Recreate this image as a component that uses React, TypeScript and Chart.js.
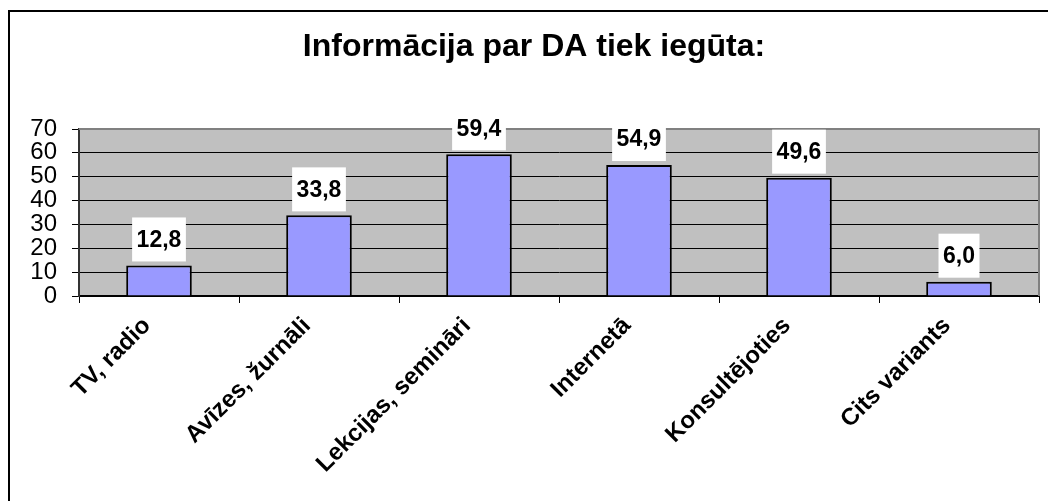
import React, { useEffect, useRef } from "react";
import { Chart, registerables } from "chart.js";

Chart.register(...registerables);

const TITLE = "Informācija par DA tiek iegūta:";
const categories = [
  "TV, radio",
  "Avīzes, žurnāli",
  "Lekcijas, semināri",
  "Internetā",
  "Konsultējoties",
  "Cits variants",
];
const values = [12.8, 33.8, 59.4, 54.9, 49.6, 6.0];
const yMin = 0;
const yMax = 70;
const yStep = 10;

const FONT = "'Liberation Sans', Arial, Helvetica, sans-serif";

const framePlugin = {
  id: "frame",
  beforeDraw(chart: any) {
    const { ctx, chartArea: a } = chart;
    ctx.save();
    ctx.fillStyle = "#ffffff";
    ctx.fillRect(0, 0, chart.width, chart.height);
    ctx.strokeStyle = "#000000";
    ctx.lineWidth = 2;
    ctx.strokeRect(9, 11, chart.width + 40, chart.height + 40);
    ctx.fillStyle = "#C0C0C0";
    ctx.fillRect(a.left, a.top, a.right - a.left, a.bottom - a.top);
    // title
    ctx.fillStyle = "#000000";
    ctx.font = `bold 32px ${FONT}`;
    ctx.textAlign = "center";
    ctx.textBaseline = "middle";
    ctx.fillText(TITLE, 534, 47);
    ctx.restore();
  },
  beforeDatasetsDraw(chart: any) {
    const { ctx, chartArea: a } = chart;
    ctx.save();
    ctx.strokeStyle = "#808080";
    ctx.lineWidth = 2;
    ctx.beginPath();
    ctx.moveTo(a.left, a.top);
    ctx.lineTo(a.right, a.top);
    ctx.lineTo(a.right, a.bottom);
    ctx.stroke();
    ctx.restore();
  },
  afterDatasetsDraw(chart: any) {
    const { ctx } = chart;
    const meta = chart.getDatasetMeta(0);
    ctx.save();
    ctx.font = `bold 23px ${FONT}`;
    ctx.textAlign = "center";
    ctx.textBaseline = "middle";
    meta.data.forEach((bar: any, i: number) => {
      const txt = values[i].toFixed(1).replace(".", ",");
      const w = ctx.measureText(txt).width + 9;
      const h = 44;
      const bottom = bar.y - 4;
      ctx.fillStyle = "#ffffff";
      ctx.fillRect(bar.x - w / 2, bottom - h, w, h);
      ctx.fillStyle = "#000000";
      ctx.fillText(txt, bar.x, bottom - h / 2 + 1);
    });
    ctx.restore();
  },
  afterDraw(chart: any) {
    const { ctx } = chart;
    const xs = chart.scales.x;
    ctx.save();
    ctx.font = `bold 24px ${FONT}`;
    ctx.fillStyle = "#000000";
    ctx.textAlign = "right";
    ctx.textBaseline = "middle";
    categories.forEach((lab, i) => {
      const x = xs.getPixelForValue(i);
      ctx.save();
      ctx.translate(x - 12, xs.top + 26);
      ctx.rotate(-Math.PI / 4);
      ctx.fillText(lab, 0, 0);
      ctx.restore();
    });
    ctx.restore();
  },
};

export default function App() {
  const ref = useRef<HTMLCanvasElement | null>(null);

  useEffect(() => {
    if (!ref.current) return;
    const chart = new Chart(ref.current, {
      type: "bar",
      data: {
        labels: categories,
        datasets: [
          {
            data: values,
            backgroundColor: "#9999FF",
            borderColor: "#000000",
            borderWidth: 2,
            categoryPercentage: 1,
            barPercentage: 0.41,
          },
        ],
      },
      options: {
        responsive: false,
        animation: false,
        layout: { padding: { left: 0, right: 9, top: 129, bottom: 0 } },
        plugins: {
          legend: { display: false },
          tooltip: { enabled: false },
          title: { display: false },
        },
        scales: {
          x: {
            grid: {
              display: true,
              drawOnChartArea: false,
              drawTicks: true,
              tickLength: 7,
              color: "#000000",
              offset: true,
            },
            border: { display: true, color: "#000000", width: 2 },
            ticks: {
              display: false,
              autoSkip: false,
            },
            afterFit(scale: any) {
              scale.height = 205;
            },
          },
          y: {
            min: yMin,
            max: yMax,
            ticks: {
              stepSize: yStep,
              autoSkip: false,
              color: "#000000",
              padding: 15,
              font: { family: FONT, size: 24 },
            },
            grid: {
              color: "#000000",
              lineWidth: 1,
              tickLength: 7,
              drawTicks: true,
            },
            border: { display: true, color: "#333333", width: 2 },
            afterFit(scale: any) {
              scale.width = 79;
            },
          },
        },
      },
      plugins: [framePlugin],
    });
    return () => chart.destroy();
  }, []);

  return (
    <div style={{ position: "absolute", left: 0, top: 0, width: 1048, height: 501, background: "#fff" }}>
      <canvas ref={ref} width={1048} height={501} />
    </div>
  );
}
